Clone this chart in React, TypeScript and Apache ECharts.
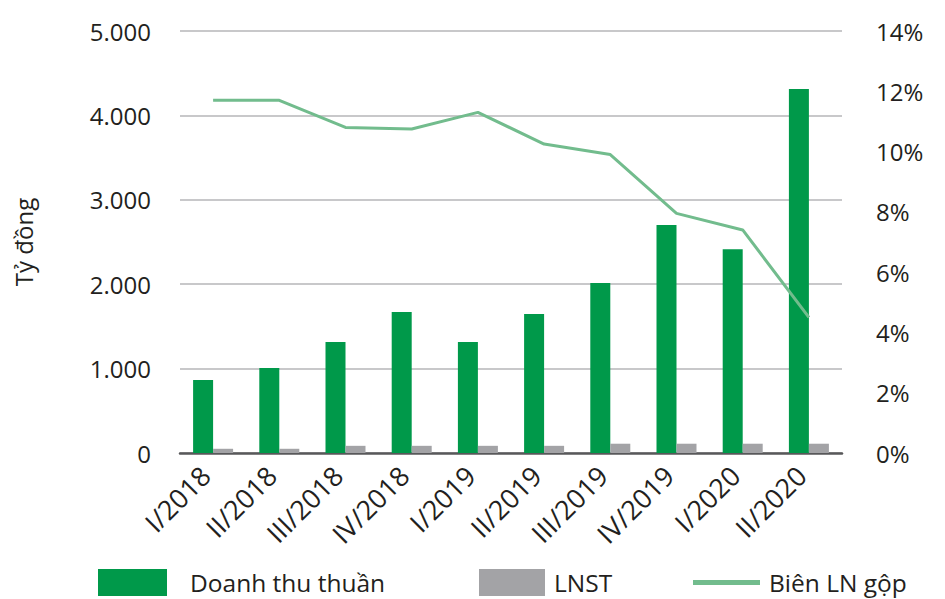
import React, { useEffect, useRef } from "react";
import * as echarts from "echarts";

const categories = ["I/2018", "II/2018", "III/2018", "IV/2018", "I/2019", "II/2019", "III/2019", "IV/2019", "I/2020", "II/2020"];
const revenue = [865, 1007, 1315, 1670, 1315, 1647, 2014, 2700, 2415, 4313];
const profit = [50, 50, 85, 85, 85, 85, 110, 110, 110, 110];
const grossMargin = [11.7, 11.7, 10.8, 10.75, 11.3, 10.25, 9.9, 7.95, 7.4, 4.5];
const leftTicks = { min: 0, max: 5000, interval: 1000 };
const rightTicks = { min: 0, max: 14, interval: 2 };

const FONT = "'Open Sans', 'Noto Sans', sans-serif";
const TXT = "#231f20";

export default function App() {
  const ref = useRef<HTMLDivElement>(null);
  useEffect(() => {
    if (!ref.current) return;
    const chart = echarts.init(ref.current, undefined, { renderer: "svg" });
    const legendText = (pad: number) => ({
      fontSize: 24.5, lineHeight: 24, color: TXT, fontFamily: FONT, padding: [0, 0, 0, pad],
    });
    chart.setOption({
      animation: false,
      textStyle: { fontFamily: FONT, color: TXT },
      grid: { left: 180, right: 103, top: 31, bottom: 146, containLabel: false },
      legend: [
        {
          data: [{ name: "Doanh thu thuần", icon: "rect" }],
          left: 98, top: 569, padding: 0, itemWidth: 69, itemHeight: 27,
          textStyle: legendText(18),
        },
        {
          data: [{ name: "LNST", icon: "rect" }],
          left: 479, top: 569, padding: 0, itemWidth: 66, itemHeight: 27,
          textStyle: legendText(4),
        },
        {
          data: [{ name: "Biên LN gộp", icon: "rect" }],
          left: 693, top: 570, padding: 0, itemWidth: 67, itemHeight: 5,
          textStyle: legendText(4),
        },
      ],
      xAxis: {
        type: "category",
        data: categories,
        axisLine: { lineStyle: { color: "#58585a", width: 2.5 } },
        axisTick: { show: false },
        axisLabel: {
          rotate: 45, fontSize: 27, color: TXT, fontFamily: FONT, margin: 10, interval: 0,
          padding: [0, 11, 0, 0],
        },
      },
      yAxis: [
        {
          type: "value",
          ...leftTicks,
          name: "Tỷ đồng",
          nameLocation: "middle",
          nameGap: 145,
          nameTextStyle: { fontSize: 24, color: TXT, fontFamily: FONT },
          axisLine: { show: false },
          axisTick: { show: false },
          axisLabel: {
            fontSize: 24, color: TXT, fontFamily: FONT, margin: 29,
            formatter: (v: number) => String(v).replace(/\B(?=(\d{3})+(?!\d))/g, "."),
          },
          splitLine: { lineStyle: { color: "#c8c8ca", width: 2 } },
        },
        {
          type: "value",
          ...rightTicks,
          position: "right",
          axisLine: { show: false },
          axisTick: { show: false },
          axisLabel: { fontSize: 24, color: TXT, fontFamily: FONT, margin: 34, formatter: "{value}%" },
          splitLine: { show: false },
        },
      ],
      series: [
        {
          name: "Doanh thu thuần",
          type: "bar",
          data: revenue,
          barWidth: 20,
          barGap: "0%",
          itemStyle: { color: "#00994a" },
        },
        {
          name: "LNST",
          type: "bar",
          data: profit,
          barWidth: 20,
          barGap: "0%",
          itemStyle: { color: "#a3a3a6" },
        },
        {
          name: "Biên LN gộp",
          type: "line",
          yAxisIndex: 1,
          data: grossMargin,
          symbol: "none",
          lineStyle: { color: "#72bc8d", width: 3 },
          itemStyle: { color: "#72bc8d" },
          z: 5,
        },
      ],
    });
    return () => chart.dispose();
  }, []);
  return <div ref={ref} style={{ width: 945, height: 599, position: "absolute", left: 0, top: 0 }} />;
}
